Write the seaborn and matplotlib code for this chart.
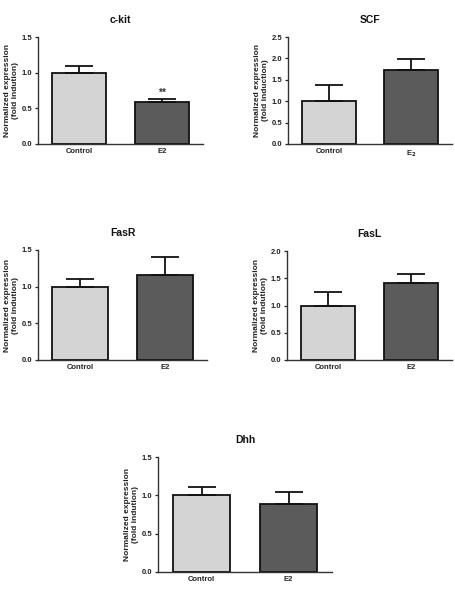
import numpy as np
import pandas as pd
import matplotlib
matplotlib.use("Agg")
import matplotlib.pyplot as plt
import seaborn as sns

GROUPS = ["Control", "E2"]
GENES = ["c-kit", "SCF", "FasR", "FasL", "Dhh"]
MEANS = {
    "c-kit": [1.0, 0.59],
    "SCF": [1.0, 1.73],
    "FasR": [1.0, 1.16],
    "FasL": [1.0, 1.41],
    "Dhh": [1.0, 0.89],
}
SEM = {
    "c-kit": [0.10, 0.04],
    "SCF": [0.39, 0.26],
    "FasR": [0.10, 0.25],
    "FasL": [0.25, 0.17],
    "Dhh": [0.11, 0.15],
}
YMAX = {"c-kit": 1.5, "SCF": 2.5, "FasR": 1.5, "FasL": 2.0, "Dhh": 1.5}
XLABELS = {
    "c-kit": ["Control", "E2"],
    "SCF": ["Control", "E$_\\mathbf{2}$"],
    "FasR": ["Control", "E2"],
    "FasL": ["Control", "E2"],
    "Dhh": ["Control", "E2"],
}
YLABELS = {
    "c-kit": "Normalized expression\n(fold indution)",
    "SCF": "Normalized expression\n(fold induction)",
    "FasR": "Normalized expression\n(fold indution)",
    "FasL": "Normalized expression\n(fold indution)",
    "Dhh": "Normalized expression\n(fold indution)",
}
STARS = {"c-kit": ["", "**"]}
COLORS = ["#d4d4d4", "#5b5b5b"]

# axes boxes in pixels: left, right, top, bottom
W, H = 455, 594
BOXES = {
    "c-kit": (38, 203, 37, 144),
    "SCF": (288, 452, 37, 144),
    "FasR": (38, 207, 250, 360),
    "FasL": (287, 452, 251, 360),
    "Dhh": (158, 332, 457, 572),
}

sns.set_style("ticks")
plt.rcParams["font.family"] = ["Liberation Sans", "DejaVu Sans"]
plt.rcParams["font.weight"] = "bold"
plt.rcParams["mathtext.default"] = "bf"
plt.rcParams["text.color"] = "#222222"

fig = plt.figure(figsize=(W / 100, H / 100), dpi=100)

for gene in GENES:
    l, r, t, b = BOXES[gene]
    ax = fig.add_axes([l / W, 1 - b / H, (r - l) / W, (b - t) / H])
    df = pd.DataFrame({"group": GROUPS, "value": MEANS[gene]})
    sns.barplot(data=df, x="group", y="value", hue="group", palette=COLORS,
                width=0.66, edgecolor="#111111", linewidth=1.3, errorbar=None,
                legend=False, ax=ax)
    xs = np.arange(len(GROUPS))
    err = SEM[gene]
    ax.errorbar(xs, MEANS[gene], yerr=[np.zeros(len(err)), err], fmt="none",
                ecolor="#111111", elinewidth=1.3, capsize=10, capthick=1.3, zorder=1)
    for x, m, e, s in zip(xs, MEANS[gene], err, STARS.get(gene, ["", ""])):
        if s:
            ax.text(x, m + e + 0.02, s, ha="center", va="bottom", fontsize=7.5,
                    fontweight="bold", color="#333333")
    ax.set_xlim(-0.5, 1.5)
    ax.set_ylim(0, YMAX[gene])
    ax.set_yticks(np.arange(0, YMAX[gene] + 0.01, 0.5))
    ax.set_yticklabels([f"{v:.1f}" for v in ax.get_yticks()], fontsize=5.5,
                       fontweight="bold", color="#222222")
    ax.set_xticks(xs)
    ax.set_xticklabels(XLABELS[gene], fontsize=5.5, fontweight="bold", color="#222222")
    ax.tick_params(axis="x", length=0, pad=3)
    ax.tick_params(axis="y", length=2.5, width=0.9, pad=1.5)
    ax.set_xlabel("")
    ax.set_ylabel(YLABELS[gene], fontsize=6, fontweight="bold", labelpad=2,
                  color="#222222")
    ax.set_title(gene, fontsize=7.5, fontweight="bold", pad=10, color="#111111")
    for sp in ["left", "bottom"]:
        ax.spines[sp].set_linewidth(1.0)
        ax.spines[sp].set_color("#333333")
    sns.despine(ax=ax)

fig.savefig("out.png", dpi=100, facecolor="white")
